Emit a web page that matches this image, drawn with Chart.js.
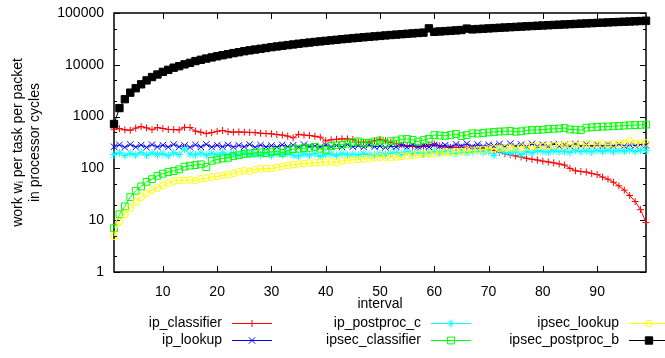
<!DOCTYPE html>
<html><head><meta charset="utf-8">
<script src="https://cdn.jsdelivr.net/npm/chart.js@4.4.1/dist/chart.umd.min.js"></script>
<style>html,body{margin:0;padding:0;background:#fff;}#wrap{width:665px;height:358px;}</style>
</head><body><div id="wrap"><canvas id="c" width="665" height="358"></canvas></div>
<script>
const intervals = [1,2,3,4,5,6,7,8,9,10,11,12,13,14,15,16,17,18,19,20,21,22,23,24,25,26,27,28,29,30,31,32,33,34,35,36,37,38,39,40,41,42,43,44,45,46,47,48,49,50,51,52,53,54,55,56,57,58,59,60,61,62,63,64,65,66,67,68,69,70,71,72,73,74,75,76,77,78,79,80,81,82,83,84,85,86,87,88,89,90,91,92,93,94,95,96,97,98,99];

const ipClassifier = [570,585,555,545,600,640,605,560,615,590, 565,560,555,620,615,525,500,470,490,520, 540,510,500,505,500,495,490,478,470,465, 450,440,420,390,455,440,432,418,400,340, 356,365,372,372,360,325,320,322,340,365, 340,320,300,285,275,265,258,270,285,295, 272,258,255,256,254,255,250,245,238,230, 220,205,192,182,174,166,157,150,145,138, 133,128,122,116,100,90,87,85,80,76, 68,62,54,46,38,30,23,16,9];

const ipLookup = [262,285,255,290,258,282,255,288,260,280, 258,290,262,278,255,285,260,292,258,280, 262,285,258,278,262,290,255,282,260,275, 258,285,262,280,255,288,262,270,258,282, 262,278,258,290,262,275,258,285,262,270, 255,268,260,282,258,290,262,275,260,285, 265,280,258,292,268,300,262,290,265,285, 270,295,262,300,268,290,262,298,268,288, 265,292,270,285,268,295,270,290,272,288, 270,290,272,292,270,288,275,290,278];

const ipPostprocC = [185,200,178,195,182,205,180,198,185,192, 178,200,185,235,190,182,198,180,195,185, 200,182,195,180,198,185,190,182,198,178, 192,185,200,180,172,190,180,195,170,185, 190,178,195,182,188,180,192,185,180,190, 185,195,200,188,210,195,205,190,200,215, 200,210,205,195,215,200,210,220,205,215, 178,220,205,195,215,185,210,200,220,212, 205,220,210,215,205,225,212,218,208,222, 212,225,210,220,215,228,212,225,220];

const ipsecClassifier = [7,13,18.5,28,37,45,55,62,72,79, 85,89,96,108,113,116,120,106,140,148, 155,160,172,180,190,195,200,205,198,210, 215,200,220,235,240,245,250,262,240,228, 270,280,288,300,320,332,312,310,330,345, 305,335,345,365,370,356,330,352,372,440, 432,425,442,462,420,440,476,470,482,495, 505,515,520,528,510,520,540,550,555,560, 575,580,590,602,565,558,548,612,620,630, 640,645,652,660,670,680,686,692,700];

const ipsecLookup = [4.9,9.4,13,17,22.5,28,33,38,42,47, 52,57,59,59,60,58,63,65,68,70, 73,76,80,86,90,88,95,99,99,100, 104,110,114,118,122,123,127,128,130,133, 133,129,139,145,147,148,153,156,160,165, 165,162,166,170,176,180,184,186,190,195, 198,201,205,208,212,218,222,226,232,238, 242,246,250,252,250,256,262,265,270,268, 272,275,278,282,285,280,286,290,288,292, 295,290,296,300,305,340,300,305,310];

const ipsecPostprocB = [720,1460,2170,2900,3530,4200,5000,5800,6500,7300, 8000,8800,9400,10200,10900,11800,12500,13200,13900,14600, 15300,16000,16800,17500,18300,19000,19700,20400,21100,21900, 22600,23300,24000,24700,25500,26200,26900,27600,28300,29000, 29700,30400,31200,31900,32600,33300,34000,34700,35400,36100, 36900,37600,38300,39000,39700,40400,41100,41800,50500,43300, 44000,44700,45400,46100,46900,50000,48300,49000,49700,50400, 51100,51800,52500,53200,53900,54600,55300,56000,56700,57400, 58100,58800,59500,60200,60900,61600,62300,63000,63700,64400, 65100,65800,66500,67200,67900,68600,69300,70000,70800];

const seriesNames = ['ip_classifier','ip_lookup','ip_postproc_c','ipsec_classifier','ipsec_lookup','ipsec_postproc_b'];
const xTickValues = [10,20,30,40,50,60,70,80,90];
const yTickValues = [1,2,5,10,20,50,100,200,500,1000,2000,5000,10000,20000,50000,100000];
const yLabelValues = [1,10,100,1000,10000,100000];

const FONT = '"Liberation Sans", Arial, Helvetica, sans-serif';
Chart.defaults.font.family = FONT;
Chart.defaults.font.size = 14;
Chart.defaults.color = '#000';

const styles = [
  {c:'#ff0000', ps:'cross', r:3.5, fill:'rgba(0,0,0,0)'},
  {c:'#0000ff', ps:'crossRot', r:4.5, fill:'rgba(0,0,0,0)'},
  {c:'#00ffff', ps:'star', r:4, fill:'rgba(0,0,0,0)'},
  {c:'#00ff00', ps:'rect', r:4.8, fill:'rgba(0,0,0,0)'},
  {c:'#ffff00', ps:'circle', r:3.4, fill:'rgba(0,0,0,0)'},
  {c:'#000000', ps:'rect', r:5.2, fill:'#000000'}
];
const seriesValues = [ipClassifier, ipLookup, ipPostprocC, ipsecClassifier, ipsecLookup, ipsecPostprocB];

const datasets = seriesValues.map((vals, i) => ({
  label: seriesNames[i],
  data: intervals.map((x, k) => ({x: x, y: vals[k]})),
  borderColor: styles[i].c,
  backgroundColor: styles[i].fill,
  pointBackgroundColor: styles[i].fill,
  pointBorderColor: styles[i].c,
  pointStyle: styles[i].ps,
  pointRadius: styles[i].r,
  pointBorderWidth: 1,
  borderWidth: 1,
  tension: 0,
  fill: false,
  clip: false,
  order: 6 - i
}));

const framePlugin = {
  id: 'frame',
  beforeDatasetsDraw(chart) {
    const {ctx, chartArea: a, scales} = chart;
    ctx.save();
    ctx.strokeStyle = '#000';
    ctx.lineWidth = 1;
    ctx.beginPath();
    xTickValues.forEach(v => {
      const px = Math.round(scales.x.getPixelForValue(v)) + 0.5;
      ctx.moveTo(px, a.bottom); ctx.lineTo(px, a.bottom - 6);
      ctx.moveTo(px, a.top); ctx.lineTo(px, a.top + 6);
    });
    yTickValues.forEach(v => {
      const py = Math.round(scales.y.getPixelForValue(v)) + 0.5;
      const len = yLabelValues.includes(v) ? 6 : 3;
      ctx.moveTo(a.left, py); ctx.lineTo(a.left + len, py);
      ctx.moveTo(a.right, py); ctx.lineTo(a.right - len, py);
    });
    ctx.stroke();
    ctx.lineWidth = 1.5;
    ctx.strokeRect(a.left, a.top, a.right - a.left, a.bottom - a.top);
    ctx.restore();
  }
};

const legendPlugin = {
  id: 'gpLegend',
  afterDraw(chart) {
    const ctx = chart.ctx;
    const colRight = [222, 421, 619];
    const rowY = [323, 340];
    ctx.save();
    ctx.font = '14px ' + FONT;
    chart.data.datasets.forEach((ds, i) => {
      const col = Math.floor(i / 2), row = i % 2;
      const xr = colRight[col], y = rowY[row];
      ctx.fillStyle = '#000';
      ctx.textAlign = 'right';
      ctx.textBaseline = 'middle';
      ctx.fillText(ds.label, xr, y);
      ctx.strokeStyle = ds.borderColor;
      ctx.lineWidth = 1;
      ctx.beginPath();
      ctx.moveTo(xr + 10, y + 0.5); ctx.lineTo(xr + 50, y + 0.5);
      ctx.stroke();
      ctx.fillStyle = ds.pointBackgroundColor;
      ctx.strokeStyle = ds.pointBorderColor;
      Chart.helpers.drawPoint(ctx, {pointStyle: ds.pointStyle, radius: ds.pointRadius, borderWidth: 1, rotation: 0}, xr + 30, y + 0.5);
    });
    ctx.restore();
  }
};

new Chart(document.getElementById('c'), {
  type: 'line',
  data: { datasets: datasets },
  options: {
    responsive: false,
    animation: false,
    devicePixelRatio: 1,
    layout: { padding: { left: 0, right: 19, top: 13, bottom: 41 } },
    plugins: { legend: { display: false }, tooltip: { enabled: false } },
    scales: {
      x: {
        type: 'linear', min: 1, max: 99,
        afterBuildTicks: s => { s.ticks = xTickValues.map(v => ({value: v})); },
        afterFit: s => { s.height = 45; s.paddingLeft = 0; s.paddingRight = 0; },
        ticks: { autoSkip: false, maxRotation: 0, padding: 12, color: '#000' },
        grid: { display: false, drawTicks: false },
        border: { display: false },
        title: { display: true, text: 'interval', color: '#000', padding: {top: 4, bottom: 4} }
      },
      y: {
        type: 'logarithmic', min: 1, max: 100000,
        afterBuildTicks: s => { s.ticks = yTickValues.map(v => ({value: v})); },
        afterFit: s => { s.width = 114; s.paddingTop = 0; s.paddingBottom = 0; },
        ticks: { autoSkip: false, padding: 10, color: '#000',
          callback: v => yLabelValues.includes(v) ? String(v) : '' },
        grid: { display: false, drawTicks: false },
        border: { display: false },
        title: { display: true, text: ['work w\u1d62 per task per packet', 'in processor cycles'], color: '#000', padding: {top: 10, bottom: 4} }
      }
    }
  },
  plugins: [framePlugin, legendPlugin]
});
</script>
</body></html>
